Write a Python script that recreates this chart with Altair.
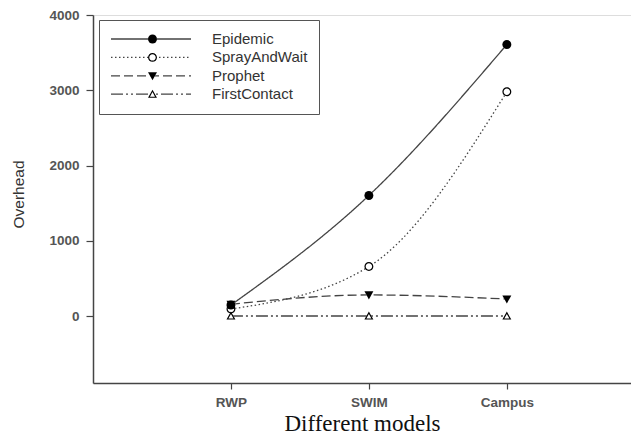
import altair as alt
import pandas as pd

models = ["RWP", "SWIM", "Campus"]
series = ["Epidemic", "SprayAndWait", "Prophet", "FirstContact"]
epidemic = [146, 1602, 3608]
spray = [93, 657, 2979]
prophet = [156, 280, 226]
first_contact = [0, 0, 0]

values = {"Epidemic": epidemic, "SprayAndWait": spray, "Prophet": prophet, "FirstContact": first_contact}
rows = []
for s in series:
    for i, m in enumerate(models):
        rows.append({"series": s, "series_m": s, "series_bg": s, "model": m, "pos": i + 1,
                     "value": values[s][i]})
df = pd.DataFrame(rows)

# marker glyphs (unit square paths): filled circle, open circle ring, filled down-triangle, open up-triangle
ring = "M-1,0A1,1,0,1,1,1,0A1,1,0,1,1,-1,0Z M-0.72,0A0.72,0.72,0,1,0,0.72,0A0.72,0.72,0,1,0,-0.72,0Z"
tri_down = "M-1,-0.8L1,-0.8L0,1Z"
tri_up = "M0,-1L1,0.8L-1,0.8Z"
tri_up_ring = "M0,-1L1,0.8L-1,0.8Z M0,-0.47L-0.56,0.55L0.56,0.55Z"

label_expr = "datum.value == 1 ? 'RWP' : datum.value == 2 ? 'SWIM' : datum.value == 3 ? 'Campus' : ''"

x_enc = alt.X("pos:Q", scale=alt.Scale(domain=[0, 3.9], nice=False, zero=False),
              axis=alt.Axis(values=[1, 2, 3], labelExpr=label_expr, title="Different models",
                            grid=False, domainColor="#444", domainWidth=1.5, tickColor="#444",
                            tickWidth=1.2, tickSize=6, labelFont="Liberation Sans", labelFontSize=13.5,
                            labelFontWeight="bold", labelColor="#555", labelPadding=6,
                            titleFont="Liberation Serif", titleFontSize=23, titleFontWeight="normal",
                            titleColor="#111", titlePadding=4))
y_enc = alt.Y("value:Q", scale=alt.Scale(domain=[-890, 4000], nice=False, zero=False),
              axis=alt.Axis(values=[0, 1000, 2000, 3000, 4000], format="d", title="Overhead", grid=False,
                            domainColor="#444", domainWidth=1.5, tickColor="#444", tickWidth=1.2,
                            tickSize=7, labelFont="Liberation Sans", labelFontSize=13.5,
                            labelColor="#555", labelPadding=7, labelFontWeight="bold",
                            titleFont="Liberation Sans", titleFontSize=15.5, titleFontWeight="normal",
                            titleColor="#333", titlePadding=22, titleY=179))

common_legend = dict(title=None, orient="none", legendY=5, padding=11, rowPadding=2.4,
                     clipHeight=16, labelFontSize=15)

lines = alt.Chart(df).mark_line(interpolate="monotone", color="#444", strokeWidth=1.3).encode(
    x=x_enc, y=y_enc,
    strokeDash=alt.StrokeDash("series:N", sort=series,
        scale=alt.Scale(domain=series, range=[[1, 0], [1.5, 2.5], [9, 4], [12, 3, 2, 3, 2, 3]]),
        legend=alt.Legend(legendX=6, symbolType="stroke",
                          symbolSize=6400, symbolStrokeWidth=1.3, symbolStrokeColor="#444",
                          labelFont="Liberation Sans", labelColor="#333",
                          labelOffset=20, strokeColor="#555", labelLimit=300, **common_legend)),
    detail="series:N",
)

bg = alt.Chart(df).mark_point(filled=True, color="white", size=80, opacity=1, strokeWidth=0).encode(
    x="pos:Q", y="value:Q",
    shape=alt.Shape("series_bg:N", sort=series,
        scale=alt.Scale(range=["circle", "circle", tri_down, tri_up]),
        legend=alt.Legend(legendX=41, symbolSize=80, symbolStrokeWidth=0, symbolFillColor="white",
                          labelExpr="''", **common_legend)),
)

ink = alt.Chart(df).mark_point(filled=True, color="black", size=80, opacity=1, strokeWidth=0).encode(
    x="pos:Q", y="value:Q",
    shape=alt.Shape("series_m:N", sort=series,
        scale=alt.Scale(range=["circle", ring, tri_down, tri_up_ring]),
        legend=alt.Legend(legendX=41, symbolSize=80, symbolStrokeWidth=0, symbolFillColor="black",
                          labelExpr="''", **common_legend)),
)

chart = alt.layer(lines, bg, ink).resolve_scale(shape="independent").properties(
    width=538, height=368,
    autosize=alt.AutoSizeParams(type="none"),
    padding={"left": 93, "top": 15, "right": 0, "bottom": 61},
).configure_view(stroke=None).configure(background="white")

chart.save("out.html", embed_options={"renderer": "svg", "actions": False})
